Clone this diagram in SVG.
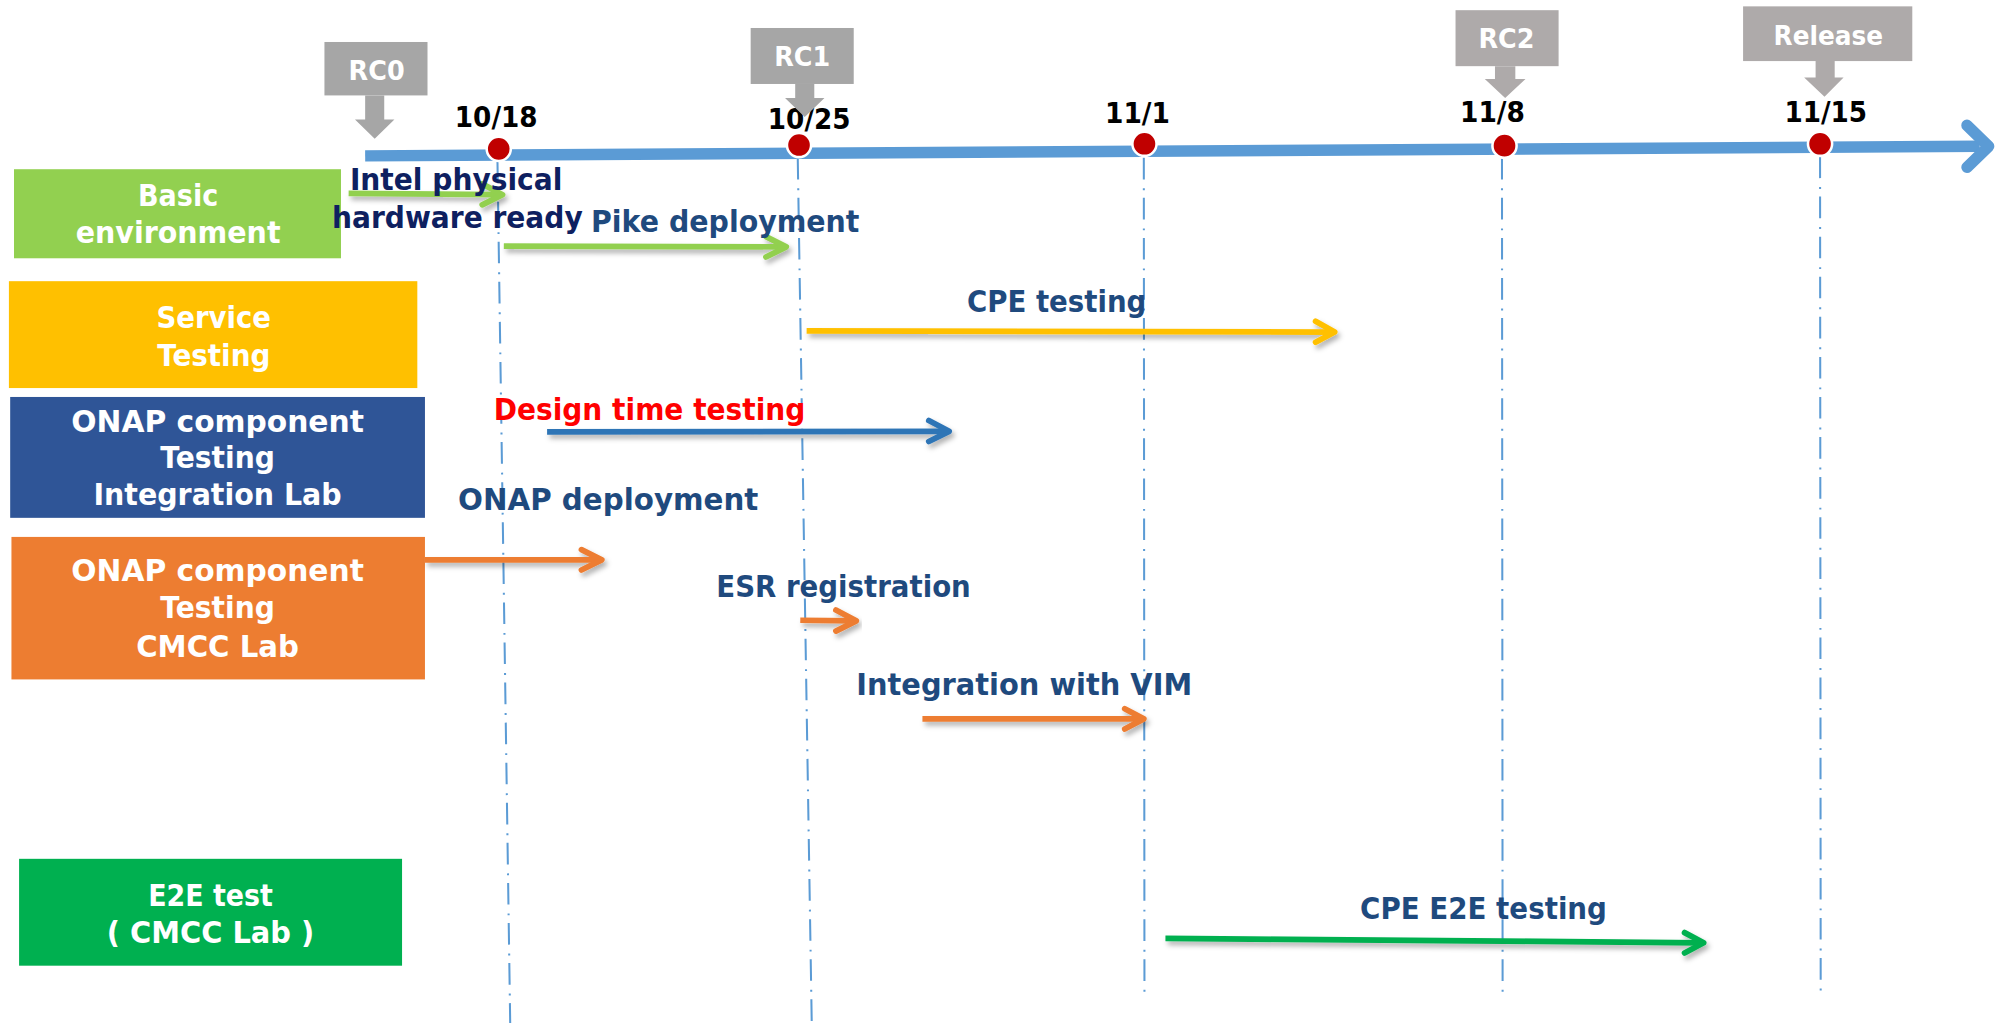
<svg xmlns="http://www.w3.org/2000/svg" width="1995" height="1023" viewBox="0 0 1995 1023">
<defs>
<style>
.t{font-family:"DejaVu Sans","Liberation Sans",Arial,sans-serif;font-weight:bold;}
.box-t{fill:#FFFFFF;font-size:24.3px;text-anchor:middle;}
.lbl{fill:#1F4A7E;font-size:24.3px;text-anchor:middle;}
.date{fill:#000000;font-size:22.3px;text-anchor:middle;}
.call-t{fill:#FFFFFF;font-size:21.5px;text-anchor:middle;}
.vline{fill:none;stroke:#5B9BD5;stroke-width:1.6;stroke-dasharray:17 7 1.5 6;}
.arr{fill:none;stroke-width:4.5;}
.head{fill:none;stroke-width:4.5;stroke-linecap:round;stroke-linejoin:round;}
.dot{fill:#C00000;stroke:#FFFFFF;stroke-width:2;}
</style>
<filter id="sh" x="-10%" y="-100%" width="120%" height="300%">
<feDropShadow dx="2" dy="3" stdDeviation="2" flood-color="#000000" flood-opacity="0.3"/>
</filter>
</defs>
<rect x="0" y="0" width="1995" height="1023" fill="#FFFFFF"/>
<g transform="scale(1.272321)">

<g id="guides">
<path class="vline" d="M391,127 L401,804"/>
<path class="vline" d="M627,124 L638,804"/>
<path class="vline" d="M899,124 L899.5,781"/>
<path class="vline" d="M1180.5,124 L1181,781"/>
<path class="vline" d="M1430.5,123 L1431,781"/>
</g>

<g id="timeline">
<path d="M287,122.5 L1556,115" fill="none" stroke="#5B9BD5" stroke-width="9"/>
<path d="M1546,98.5 L1563,115 L1546,131.5" fill="none" stroke="#5B9BD5" stroke-width="9" stroke-linecap="round" stroke-linejoin="round"/>
<circle class="dot" cx="392" cy="117" r="9.5"/>
<circle class="dot" cx="628" cy="114" r="9.5"/>
<circle class="dot" cx="899.5" cy="113" r="9.5"/>
<circle class="dot" cx="1182.5" cy="114.5" r="9.5"/>
<circle class="dot" cx="1430.5" cy="113" r="9.5"/>
<text class="t date" x="390" y="99.6" textLength="65" lengthAdjust="spacingAndGlyphs">10/18</text>
<text class="t date" x="636" y="101.7" textLength="65" lengthAdjust="spacingAndGlyphs">10/25</text>
<text class="t date" x="894" y="96.4" textLength="51" lengthAdjust="spacingAndGlyphs">11/1</text>
<text class="t date" x="1173" y="96" textLength="51" lengthAdjust="spacingAndGlyphs">11/8</text>
<text class="t date" x="1435" y="96" textLength="65" lengthAdjust="spacingAndGlyphs">11/15</text>
</g>

<g id="milestone-rc0">
<rect x="255" y="33" width="81" height="42" fill="#A6A6A6"/>
<polygon points="287,75 302,75 302,94 310,94 294.5,109 279,94 287,94" fill="#A6A6A6"/>
<text class="t call-t" x="296" y="62.5" textLength="44" lengthAdjust="spacingAndGlyphs">RC0</text>
</g>
<g id="milestone-rc1">
<rect x="590" y="22" width="81" height="44" fill="#A6A6A6"/>
<polygon points="625,66 640,66 640,77 648,77 632.5,92 617,77 625,77" fill="#A6A6A6"/>
<text class="t call-t" x="630.5" y="52" textLength="44" lengthAdjust="spacingAndGlyphs">RC1</text>
</g>
<g id="milestone-rc2">
<rect x="1144" y="8" width="81" height="44" fill="#AEAAAA"/>
<polygon points="1175,52 1191,52 1191,62 1199,62 1183,77 1167,62 1175,62" fill="#AEAAAA"/>
<text class="t call-t" x="1184" y="38" textLength="44" lengthAdjust="spacingAndGlyphs">RC2</text>
</g>
<g id="milestone-release">
<rect x="1370" y="5" width="133" height="43" fill="#AEAAAA"/>
<polygon points="1427,48 1442,48 1442,61 1449,61 1434,76 1418,61 1427,61" fill="#AEAAAA"/>
<text class="t call-t" x="1437" y="35" textLength="86" lengthAdjust="spacingAndGlyphs">Release</text>
</g>

<g id="node-basic-environment">
<rect x="11" y="133" width="257" height="70" fill="#92D050"/>
<text class="t box-t" x="140" y="162" textLength="63" lengthAdjust="spacingAndGlyphs">Basic</text>
<text class="t box-t" x="140" y="191" textLength="161" lengthAdjust="spacingAndGlyphs">environment</text>
</g>
<g id="node-service-testing">
<rect x="7" y="221" width="321" height="84" fill="#FFC000"/>
<text class="t box-t" x="168" y="258" textLength="90" lengthAdjust="spacingAndGlyphs">Service</text>
<text class="t box-t" x="168" y="288" textLength="89" lengthAdjust="spacingAndGlyphs">Testing</text>
</g>
<g id="node-onap-integration-lab">
<rect x="8" y="312" width="326" height="95" fill="#2F5597"/>
<text class="t box-t" x="171" y="339.5" textLength="230" lengthAdjust="spacingAndGlyphs">ONAP component</text>
<text class="t box-t" x="171" y="368" textLength="90" lengthAdjust="spacingAndGlyphs">Testing</text>
<text class="t box-t" x="171" y="397" textLength="195" lengthAdjust="spacingAndGlyphs">Integration Lab</text>
</g>
<g id="node-onap-cmcc-lab">
<rect x="9" y="422" width="325" height="112" fill="#ED7D31"/>
<text class="t box-t" x="171" y="457" textLength="230" lengthAdjust="spacingAndGlyphs">ONAP component</text>
<text class="t box-t" x="171" y="486" textLength="90" lengthAdjust="spacingAndGlyphs">Testing</text>
<text class="t box-t" x="171" y="516" textLength="128" lengthAdjust="spacingAndGlyphs">CMCC Lab</text>
</g>
<g id="node-e2e-test">
<rect x="15" y="675" width="301" height="84" fill="#00B050"/>
<text class="t box-t" x="165.5" y="712" textLength="98" lengthAdjust="spacingAndGlyphs">E2E test</text>
<text class="t box-t" x="165.5" y="741" textLength="163" lengthAdjust="spacingAndGlyphs">( CMCC Lab )</text>
</g>

<g id="connectors">
<g filter="url(#sh)">
<path class="arr" stroke="#92D050" d="M274,152 L393,153"/>
<path class="head" stroke="#92D050" d="M379,144.5 L395,153 L379,161"/>
</g>
<g filter="url(#sh)">
<path class="arr" stroke="#92D050" d="M396,193.5 L616,194"/>
<path class="head" stroke="#92D050" d="M602,186 L618,194 L602,202"/>
</g>
<g filter="url(#sh)">
<path class="arr" stroke="#FFC000" d="M634,260 L1047,261"/>
<path class="head" stroke="#FFC000" d="M1034,252.5 L1049,261 L1034,269"/>
</g>
<g filter="url(#sh)">
<path class="arr" stroke="#2E75B6" d="M430,339.5 L744,339"/>
<path class="head" stroke="#2E75B6" d="M730,330.5 L746,339 L730,347"/>
</g>
<g filter="url(#sh)">
<path class="arr" stroke="#ED7D31" d="M334,440 L471,440"/>
<path class="head" stroke="#ED7D31" d="M457,432 L473,440 L457,448"/>
</g>
<g filter="url(#sh)">
<path class="arr" stroke="#ED7D31" d="M629,487.5 L671,488"/>
<path class="head" stroke="#ED7D31" d="M657,479.5 L673,488 L657,496"/>
</g>
<g filter="url(#sh)">
<path class="arr" stroke="#ED7D31" d="M725,565 L897,565"/>
<path class="head" stroke="#ED7D31" d="M884,557 L899,565 L884,573"/>
</g>
<g filter="url(#sh)">
<path class="arr" stroke="#00B050" d="M916,737.5 L1337,741"/>
<path class="head" stroke="#00B050" d="M1324,733 L1339,741 L1324,749"/>
</g>
<text class="t lbl" x="358.5" y="149.5" style="fill:#0E2060" textLength="167" lengthAdjust="spacingAndGlyphs">Intel physical</text>
<text class="t lbl" x="359.5" y="179" style="fill:#0E2060" textLength="197" lengthAdjust="spacingAndGlyphs">hardware ready</text>
<text class="t lbl" x="570" y="182" textLength="211" lengthAdjust="spacingAndGlyphs">Pike deployment</text>
<text class="t lbl" x="830.5" y="245" textLength="141" lengthAdjust="spacingAndGlyphs">CPE testing</text>
<text class="t lbl" x="510.5" y="330" style="fill:#FF0000" textLength="245" lengthAdjust="spacingAndGlyphs">Design time testing</text>
<text class="t lbl" x="478" y="401" textLength="236" lengthAdjust="spacingAndGlyphs">ONAP deployment</text>
<text class="t lbl" x="663" y="469.5" textLength="200" lengthAdjust="spacingAndGlyphs">ESR registration</text>
<text class="t lbl" x="805" y="546" textLength="264" lengthAdjust="spacingAndGlyphs">Integration with VIM</text>
<text class="t lbl" x="1166" y="722.5" textLength="194" lengthAdjust="spacingAndGlyphs">CPE E2E testing</text>
</g>

</g>
</svg>
